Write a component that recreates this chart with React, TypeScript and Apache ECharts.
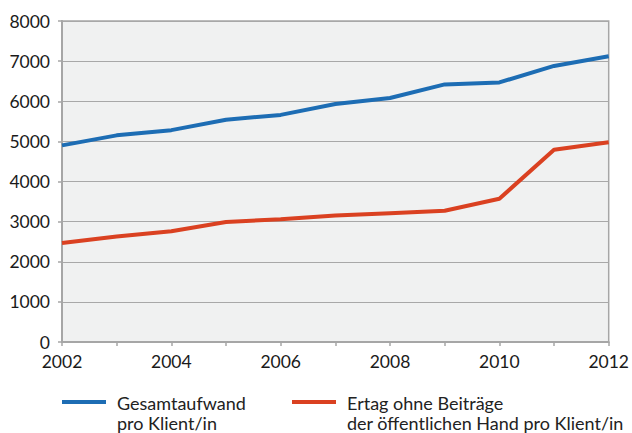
import React, { useEffect, useRef } from "react";
import * as echarts from "echarts";

const years = ["2002", "2003", "2004", "2005", "2006", "2007", "2008", "2009", "2010", "2011", "2012"];
const gesamtaufwand = [4900, 5150, 5280, 5540, 5660, 5930, 6080, 6420, 6470, 6880, 7120];
const ertrag = [2470, 2630, 2760, 2990, 3060, 3150, 3210, 3270, 3570, 4790, 4980];
const legendLines = [
  ["Gesamtaufwand", "pro Klient/in"],
  ["Ertag ohne Beiträge", "der öffentlichen Hand pro Klient/in"],
];
const colors = ["#1d6db4", "#da4121"];

const FONT = "Lato, 'Open Sans', sans-serif";

export default function App() {
  const ref = useRef<HTMLDivElement>(null);
  useEffect(() => {
    if (!ref.current) return;
    const chart = echarts.init(ref.current, undefined, { renderer: "svg" });
    const legendItems: any[] = [];
    const lx = [62, 292];
    legendLines.forEach((lines, i) => {
      legendItems.push({
        type: "line",
        shape: { x1: lx[i], y1: 402, x2: lx[i] + 44, y2: 402 },
        style: { stroke: colors[i], lineWidth: 4 },
      });
      lines.forEach((t, j) => {
        legendItems.push({
          type: "text",
          x: lx[i] + 55,
          y: 403 + j * 20,
          style: {
            text: t,
            fill: "#222",
            font: `18px ${FONT}`,
            lineHeight: 18,
            textVerticalAlign: "middle",
          },
        });
      });
    });
    chart.setOption({
      animation: false,
      grid: {
        left: 62,
        right: 23,
        top: 21,
        bottom: 91,
        show: true,
        backgroundColor: "#f0f1f1",
        borderColor: "#a6a6a6",
        borderWidth: 1.5,
      },
      xAxis: {
        type: "category",
        data: years,
        boundaryGap: false,
        axisLine: { lineStyle: { color: "#a6a6a6", width: 2 } },
        axisTick: { show: true, interval: 0, length: 4, lineStyle: { color: "#a6a6a6", width: 1.5 } },
        axisLabel: { interval: 1, color: "#1a1a1a", fontSize: 17.5, fontFamily: FONT, margin: 10 },
        splitLine: { show: false },
      },
      yAxis: {
        type: "value",
        min: 0,
        max: 8000,
        interval: 1000,
        axisLine: { show: true, lineStyle: { color: "#a6a6a6", width: 2 } },
        axisTick: { show: true, length: 4, lineStyle: { color: "#a6a6a6", width: 1.5 } },
        axisLabel: {
          color: "#1a1a1a",
          fontSize: 17.5,
          fontFamily: FONT,
          margin: 12,
          formatter: (v: number) => String(v),
        },
        splitLine: { lineStyle: { color: "#a8a8a8", width: 1.2 } },
      },
      series: [
        {
          name: legendLines[0].join(" "),
          type: "line",
          data: gesamtaufwand,
          symbol: "none",
          lineStyle: { color: colors[0], width: 4 },
        },
        {
          name: legendLines[1].join(" "),
          type: "line",
          data: ertrag,
          symbol: "none",
          lineStyle: { color: colors[1], width: 4 },
        },
      ],
      graphic: legendItems,
    });
    return () => chart.dispose();
  }, []);
  return (
    <div
      ref={ref}
      style={{ position: "fixed", left: 0, top: 0, width: 632, height: 433, background: "#fff" }}
    />
  );
}
